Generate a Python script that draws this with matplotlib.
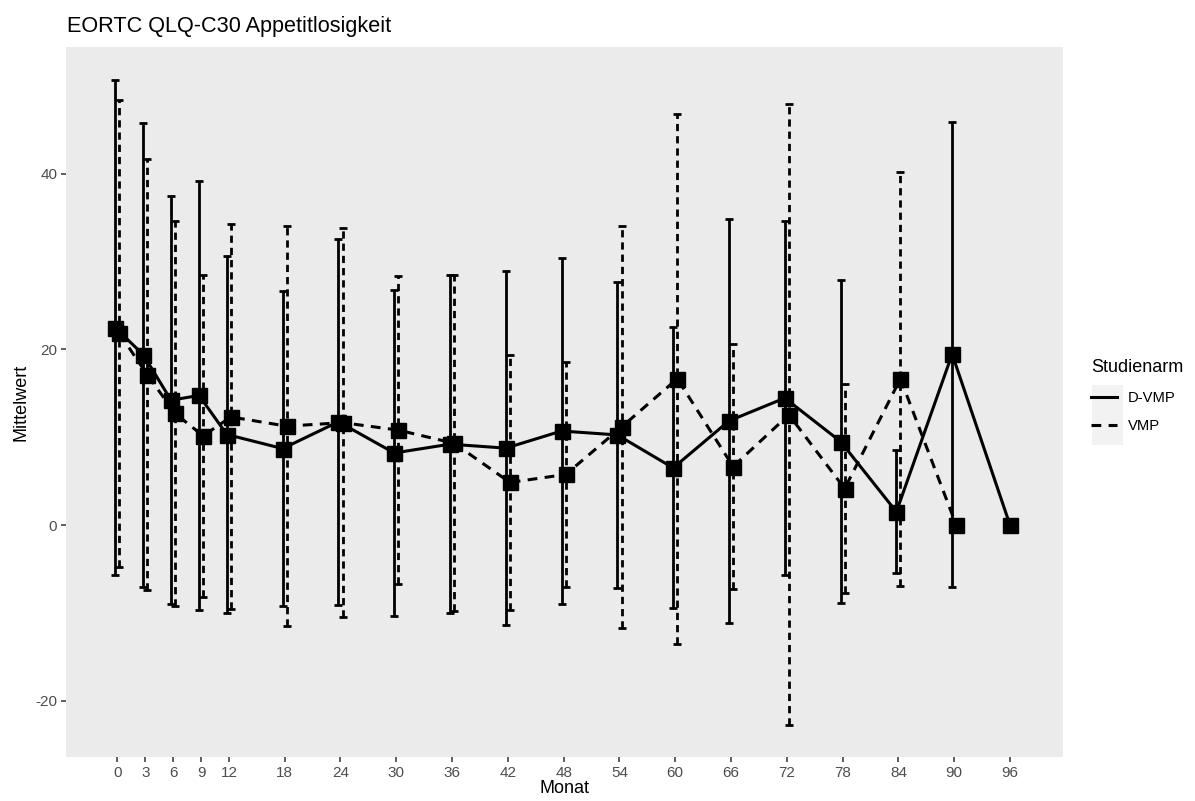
import matplotlib
matplotlib.use('Agg')
import matplotlib.pyplot as plt
from matplotlib.lines import Line2D
from matplotlib.patches import Rectangle

plt.rcParams['font.family'] = ['Liberation Sans', 'DejaVu Sans']
plt.rcParams['axes.unicode_minus'] = False

# Monate (x-Achse)
monate_dvmp = [0, 3, 6, 9, 12, 18, 24, 30, 36, 42, 48, 54, 60, 66, 72, 78, 84, 90, 96]
monate_vmp = [0, 3, 6, 9, 12, 18, 24, 30, 36, 42, 48, 54, 60, 66, 72, 78, 84, 90]
tick_monate = [0, 3, 6, 9, 12, 18, 24, 30, 36, 42, 48, 54, 60, 66, 72, 78, 84, 90, 96]

# Mittelwert und Standardabweichung je Studienarm
mw_dvmp = [22.45, 19.4, 14.2, 14.75, 10.3, 8.7, 11.75, 8.2, 9.2, 8.75, 10.7,
           10.25, 6.5, 11.85, 14.45, 9.5, 1.5, 19.45, 0.0]
sd_dvmp = [28.15, 26.4, 23.2, 24.45, 20.3, 17.9, 20.85, 18.5, 19.2, 20.15, 19.7,
           17.45, 16.0, 22.95, 20.15, 18.4, 7.0, 26.45, 0.0]
mw_vmp = [21.8, 17.1, 12.7, 10.15, 12.3, 11.25, 11.65, 10.8, 9.3, 4.85, 5.75,
          11.15, 16.65, 6.65, 12.55, 4.15, 16.65, 0.0]
sd_vmp = [26.6, 24.5, 21.9, 18.35, 21.9, 22.75, 22.15, 17.5, 19.1, 14.55, 12.85,
          22.85, 30.15, 13.95, 35.35, 11.85, 23.55, 0.0]

W, H = 1195, 801
fig = plt.figure(figsize=(W / 100, H / 100), dpi=100)
ax = fig.add_axes([66 / W, 1 - 757 / H, (1063 - 66) / W, (757 - 47) / H])
ax.set_facecolor('#EBEBEB')
for s in ax.spines.values():
    s.set_visible(False)

# leichtes Ausweichen (dodge), nur wenn beide Arme zu diesem Monat Werte haben
dodge = 0.22
beide = set(monate_dvmp) & set(monate_vmp)
x_dvmp = [m - dodge if m in beide else m for m in monate_dvmp]
x_vmp = [m + dodge if m in beide else m for m in monate_vmp]

lw = 2.2
for x, mw, sd, ls_line, ls_bar in [
        (x_dvmp, mw_dvmp, sd_dvmp, '-', '-'),
        (x_vmp, mw_vmp, sd_vmp, (0, (3.2, 2.4)), (0, (2.6, 1.8)))]:
    eb = ax.errorbar(x, mw, yerr=sd, fmt='none', ecolor='black',
                     elinewidth=2.0, capsize=3, capthick=2.0, zorder=2)
    eb[2][0].set_linestyle(ls_bar)
    ax.plot(x, mw, color='black', lw=lw, linestyle=ls_line, zorder=3)
    ax.plot(x, mw, color='black', lw=0, marker='s', ms=10.8, zorder=4)

ax.set_xlim(-5.52, 101.7)
ax.set_ylim(-26.4, 54.4)
ax.set_xticks(tick_monate)
ax.set_xticklabels([str(t) for t in tick_monate])
ax.set_yticks([-20, 0, 20, 40])
ax.tick_params(axis='both', colors='#333333', labelcolor='#4D4D4D',
               labelsize=11, length=3.8, width=1.1, pad=2.5)

ax.set_xlabel('Monat', fontsize=13, labelpad=0)
ax.set_ylabel('Mittelwert', fontsize=13, labelpad=4)

fig.text(67 / W, 1 - 32 / H, 'EORTC QLQ-C30 Appetitlosigkeit',
         fontsize=15.6, va='baseline', ha='left', color='black')

# Legende
fig.patches.append(Rectangle((1092 / W, 1 - 445 / H), 31 / W, 60 / H,
                             transform=fig.transFigure, facecolor='#F2F2F2',
                             edgecolor='none', zorder=0))
handles = [Line2D([], [], color='black', lw=lw, linestyle='-'),
           Line2D([], [], color='black', lw=lw, linestyle=(0, (3.2, 2.4)))]
leg = fig.legend(handles, ['D-VMP', 'VMP'], title='Studienarm',
                 loc='upper left', bbox_to_anchor=(1091 / W, 1 - 359 / H),
                 bbox_transform=fig.transFigure, frameon=False,
                 fontsize=10.6, title_fontsize=13, alignment='left',
                 handlelength=1.75, handletextpad=0.75, labelspacing=1.0,
                 borderpad=0, borderaxespad=0)

fig.savefig('out.png', dpi=100)
